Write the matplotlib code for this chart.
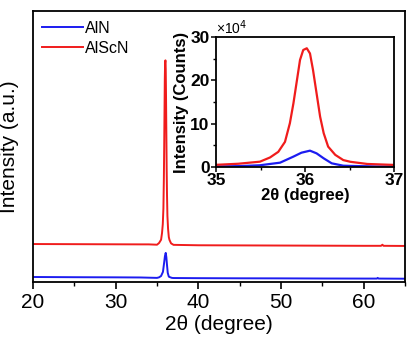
import numpy as np
import matplotlib.pyplot as plt
from matplotlib.ticker import MultipleLocator

plt.rcParams['font.family'] = ['Liberation Sans', 'DejaVu Sans']

# 2theta (degree) and intensity (x10^4 counts)
red_theta = [20, 25, 30, 33, 34, 34.6, 35.0, 35.25, 35.494, 35.607, 35.70, 35.775,
             35.83, 35.87, 35.91, 35.944, 35.98, 36.02, 36.056, 36.09, 36.13, 36.17,
             36.21, 36.26, 36.34, 36.43, 36.51, 36.7, 37.0, 40, 45, 50, 55, 60,
             62.1, 62.27, 62.4, 65]
red_counts = [0.60, 0.58, 0.56, 0.55, 0.55, 0.52, 0.50, 0.75, 1.23, 2.2, 3.5, 5.8,
              10.1, 14.7, 20.1, 24.7, 27.0, 27.4, 26.2, 22.4, 17.0, 11.6,
              7.8, 4.7, 2.8, 1.6, 1.2, 0.7, 0.48, 0.42, 0.40, 0.38, 0.36, 0.34,
              0.34, 0.50, 0.34, 0.32]
blue_theta = [20, 25, 30, 33, 34, 35.0, 35.25, 35.494, 35.72, 35.87, 35.96, 36.056,
              36.13, 36.21, 36.30, 36.43, 36.51, 36.8, 37.0, 40, 45, 50, 55, 60,
              61.6, 61.7, 61.8, 65]
blue_counts = [0.25, 0.22, 0.20, 0.18, 0.15, 0.12, 0.2, 0.4, 1.0, 2.4, 3.3, 3.77,
               3.15, 2.0, 0.85, 0.3, 0.25, 0.12, 0.1, 0.08, 0.06, 0.05, 0.03, 0.02,
               0.02, 0.12, 0.02, 0.0]
red_offset = 4.46

blue = '#1c1cf0'
red = '#f01c1c'

fig = plt.figure(figsize=(4.07, 3.42), dpi=100)
ax = fig.add_axes([33/407, 60/342, 372/407, 271/342])

ax.plot(blue_theta, blue_counts, color=blue, lw=1.4, label='AlN')
ax.plot(red_theta, np.array(red_counts) + red_offset, color=red, lw=1.4, label='AlScN')
ax.set_xlim(20, 65)
ax.set_ylim(-0.48, 39.06)
ax.set_yticks([])
ax.xaxis.set_major_locator(MultipleLocator(10))
ax.xaxis.set_minor_locator(MultipleLocator(5))
ax.tick_params(axis='x', which='major', direction='out', length=5, width=1.2,
               labelsize=15, pad=3)
ax.tick_params(axis='x', which='minor', direction='out', length=3, width=1.0)
for s in ax.spines.values():
    s.set_linewidth(1.3)
ax.set_xlabel('2θ (degree)', fontsize=15, labelpad=2)
ax.set_ylabel('Intensity (a.u.)', fontsize=15, labelpad=10)
ax.legend(loc='upper left', bbox_to_anchor=(-0.006, 1.005), frameon=False,
          fontsize=11.5, handlelength=2.6, handletextpad=0.1,
          labelspacing=0.3, borderpad=0.2)

# inset
ins = fig.add_axes([216/407, 175/342, 178/407, 130/342])
ins.plot(blue_theta, blue_counts, color=blue, lw=1.6)
ins.plot(red_theta, red_counts, color=red, lw=1.6)
ins.set_xlim(35, 37)
ins.set_ylim(0, 30)
ins.set_xticks([35, 36, 37])
ins.set_yticks([0, 10, 20, 30])
ins.xaxis.set_minor_locator(MultipleLocator(0.5))
ins.yaxis.set_minor_locator(MultipleLocator(5))
ins.tick_params(which='major', direction='out', length=3.5, width=1.1,
                labelsize=12.5, pad=1)
ins.tick_params(which='minor', direction='out', length=2, width=1.0)
for lab in ins.get_xticklabels() + ins.get_yticklabels():
    lab.set_fontweight('bold')
for s in ins.spines.values():
    s.set_linewidth(1.3)
ins.set_xlabel('2θ (degree)', fontsize=12, fontweight='bold', labelpad=0)
ins.set_ylabel('Intensity (Counts)', fontsize=12, fontweight='bold', labelpad=1)
ins.text(0.0, 1.0, '×10$^4$', transform=ins.transAxes, fontsize=10,
         ha='left', va='bottom')

plt.savefig('out.png', dpi=100)
